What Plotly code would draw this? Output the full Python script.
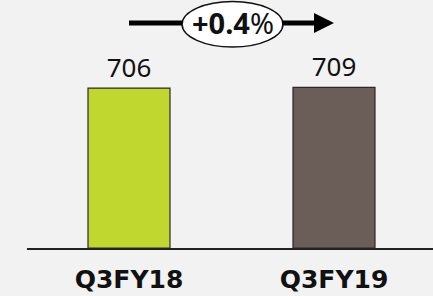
import plotly.graph_objects as go

categories = ["Q3FY18", "Q3FY19"]
values = [706, 709]
bar_colors = ["#c0d730", "#6b5d58"]
growth_label = "+0.4%"

fig = go.Figure()
fig.add_trace(go.Bar(
    x=categories, y=values,
    marker=dict(color=bar_colors, line=dict(color="#2a2a2a", width=1.2)),
    width=0.4,
    text=[str(v) for v in values], textposition="outside",
    textfont=dict(family="Noto Sans", size=26, color="#111111"),
    cliponaxis=False,
))

ymax = 918
arrow_yp = 1.0817

# left part of the arrow line (from first bar centre to the ellipse)
fig.add_shape(type="line", xref="x", yref="paper", x0=0, x1=0.27,
              y0=arrow_yp, y1=arrow_yp, line=dict(color="#000000", width=5))
# arrow head part (from ellipse to second bar centre)
fig.add_annotation(x=1, y=arrow_yp, ax=0.74, ay=0,
                   xref="x", yref="paper", axref="x", ayref="pixel",
                   showarrow=True, arrowhead=2, arrowsize=0.8, arrowwidth=5,
                   arrowcolor="#000000", text="", standoff=0, startstandoff=0)

fig.add_shape(type="circle", xref="x", yref="paper",
              x0=0.259, x1=0.751, y0=0.966, y1=1.185,
              fillcolor="white", line=dict(color="#111111", width=1.5), layer="above")

fig.add_annotation(x=0.505, y=1.082, xref="x", yref="paper", showarrow=False,
                   xanchor="center", yanchor="middle",
                   text="<b>" + growth_label[:-1] + "</b>" + growth_label[-1],
                   font=dict(family="Noto Sans", size=29, color="#111111"))

fig.update_layout(
    width=433, height=296,
    margin=dict(l=27, r=0, t=40, b=48, autoexpand=False),
    paper_bgcolor="#f2f2f2", plot_bgcolor="#f2f2f2",
    showlegend=False,
    xaxis=dict(range=[-0.4976, 1.483], showline=True, linecolor="#222222", linewidth=1.5,
               showgrid=False, ticks="", ticklabelstandoff=8,
               tickfont=dict(family="DejaVu Sans", size=25, color="#111111", weight="bold")),
    yaxis=dict(range=[0, ymax], visible=False, showgrid=False),
)
fig.write_html("out.html", config={"displayModeBar": False},
               post_script="document.body.style.margin='0';document.body.style.background='#f2f2f2';")
